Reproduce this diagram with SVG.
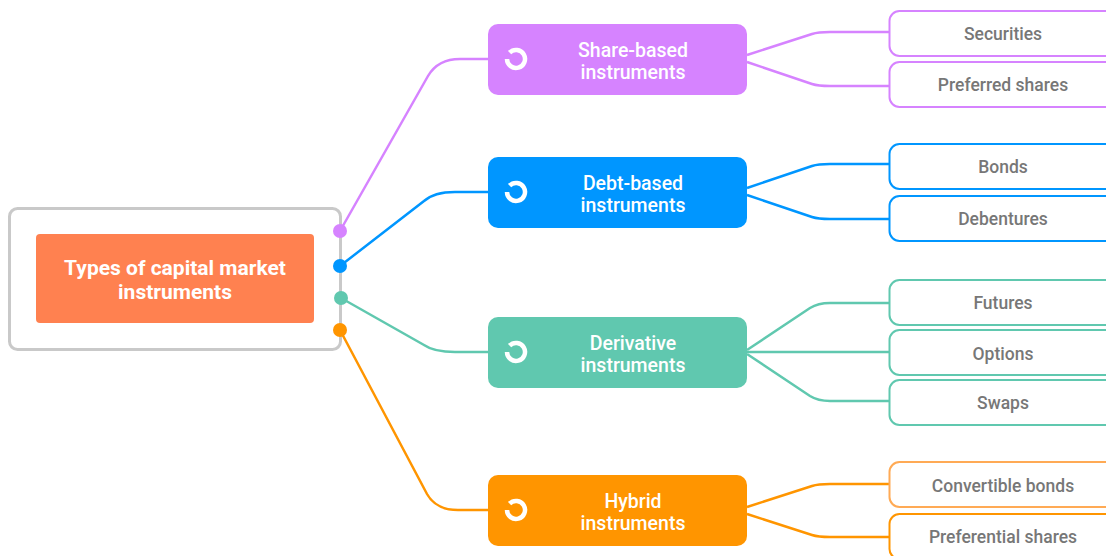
<svg xmlns="http://www.w3.org/2000/svg" width="1106" height="556" viewBox="0 0 1106 556">
<style>
  text { font-family: Roboto, "Open Sans", "Liberation Sans", sans-serif; text-anchor: middle; }
  .root-t { fill: #fff; font-size: 21px; font-weight: 700; }
  .main-t { fill: #fff; font-size: 19.5px; font-weight: 500; }
  .leaf-t { fill: #777; font-size: 17.5px; font-weight: 500; }
  .leaf { fill: #fff; stroke-width: 2; }
  .conn { fill: none; stroke-width: 2.5; }
  .icon { fill: none; stroke: #fff; stroke-width: 4.5; }
  .p { stroke: #D683FF; } .pf { fill: #D683FF; }
  .b { stroke: #0096FF; } .bf { fill: #0096FF; }
  .t { stroke: #60C8AF; } .tf { fill: #60C8AF; }
  .o { stroke: #FF9500; } .of { fill: #FF9500; }
</style>
<g id="connectors">
  <path class="conn p" d="M340,231 L428,76 Q438,59 460,59 L488,59"/>
  <path class="conn b" d="M340,266 L424,201 Q434,192 455,192 L488,192"/>
  <path class="conn t" d="M341,298 L424,345 Q434,352 455,352 L488,352"/>
  <path class="conn o" d="M340,330 L427,494 Q436,510 458,510 L488,510"/>
  <path class="conn p" d="M747,55 L812,34 Q818,32 830,32 L889,32"/>
  <path class="conn p" d="M747,62 L812,84 Q818,86 830,86 L889,86"/>
  <path class="conn b" d="M747,188 L812,166 Q818,164 830,164 L889,164"/>
  <path class="conn b" d="M747,195 L812,217 Q818,219 830,219 L889,219"/>
  <path class="conn t" d="M747,350 L810,308 Q818,303 830,303 L889,303"/>
  <path class="conn t" d="M747,352 L889,352"/>
  <path class="conn t" d="M747,354 L810,396 Q818,401 830,401 L889,401"/>
  <path class="conn o" d="M747,507 L812,486 Q818,484 830,484 L889,484"/>
  <path class="conn o" d="M747,514 L812,535 Q818,537 830,537 L889,537"/>
</g>
<g id="root">
  <rect x="9.5" y="208.5" width="331" height="141" rx="8" fill="#fff" stroke="#C9C9C9" stroke-width="3"/>
  <rect x="36" y="234" width="278" height="89" rx="4" fill="#FF8150"/>
  <text class="root-t" x="175" y="275">Types of capital market</text>
  <text class="root-t" x="175" y="299">instruments</text>
  <circle cx="340" cy="231" r="7" class="pf"/>
  <circle cx="340" cy="266" r="7" class="bf"/>
  <circle cx="341" cy="298" r="7" class="tf"/>
  <circle cx="340" cy="330" r="7" class="of"/>
</g>
<g id="share">
  <rect x="488" y="24" width="259" height="71" rx="10" class="pf"/>
  <path class="icon" d="M507,59 A9,9 0 1 0 509.6,52.6"/>
  <text class="main-t" x="633" y="57">Share-based</text>
  <text class="main-t" x="633" y="79">instruments</text>
</g>
<g id="debt">
  <rect x="488" y="157" width="259" height="71" rx="10" class="bf"/>
  <path class="icon" d="M507,192 A9,9 0 1 0 509.6,185.6"/>
  <text class="main-t" x="633" y="190">Debt-based</text>
  <text class="main-t" x="633" y="212">instruments</text>
</g>
<g id="derivative">
  <rect x="488" y="317" width="259" height="71" rx="10" class="tf"/>
  <path class="icon" d="M507,352 A9,9 0 1 0 509.6,345.6"/>
  <text class="main-t" x="633" y="350">Derivative</text>
  <text class="main-t" x="633" y="372">instruments</text>
</g>
<g id="hybrid">
  <rect x="488" y="475" width="259" height="71" rx="10" class="of"/>
  <path class="icon" d="M507,510 A9,9 0 1 0 509.6,503.6"/>
  <text class="main-t" x="633" y="508">Hybrid</text>
  <text class="main-t" x="633" y="530">instruments</text>
</g>
<g id="securities">
  <rect x="889.5" y="11" width="240" height="45" rx="10" class="leaf p"/>
  <text class="leaf-t" x="1003" y="40">Securities</text>
</g>
<g id="preferred-shares">
  <rect x="889.5" y="62" width="240" height="45" rx="10" class="leaf p"/>
  <text class="leaf-t" x="1003" y="91">Preferred shares</text>
</g>
<g id="bonds">
  <rect x="889.5" y="144" width="240" height="45" rx="10" class="leaf b"/>
  <text class="leaf-t" x="1003" y="173">Bonds</text>
</g>
<g id="debentures">
  <rect x="889.5" y="196" width="240" height="45" rx="10" class="leaf b"/>
  <text class="leaf-t" x="1003" y="225">Debentures</text>
</g>
<g id="futures">
  <rect x="889.5" y="280" width="240" height="45" rx="10" class="leaf t"/>
  <text class="leaf-t" x="1003" y="309">Futures</text>
</g>
<g id="options">
  <rect x="889.5" y="330" width="240" height="45" rx="10" class="leaf t"/>
  <text class="leaf-t" x="1003" y="360">Options</text>
</g>
<g id="swaps">
  <rect x="889.5" y="380" width="240" height="45" rx="10" class="leaf t"/>
  <text class="leaf-t" x="1003" y="409">Swaps</text>
</g>
<g id="convertible-bonds">
  <rect x="889.5" y="462" width="240" height="45" rx="10" class="leaf" stroke="#FFAA55"/>
  <text class="leaf-t" x="1003" y="492">Convertible bonds</text>
</g>
<g id="preferential-shares">
  <rect x="889.5" y="514" width="240" height="45" rx="10" class="leaf o"/>
  <text class="leaf-t" x="1003" y="543">Preferential shares</text>
</g>
</svg>
